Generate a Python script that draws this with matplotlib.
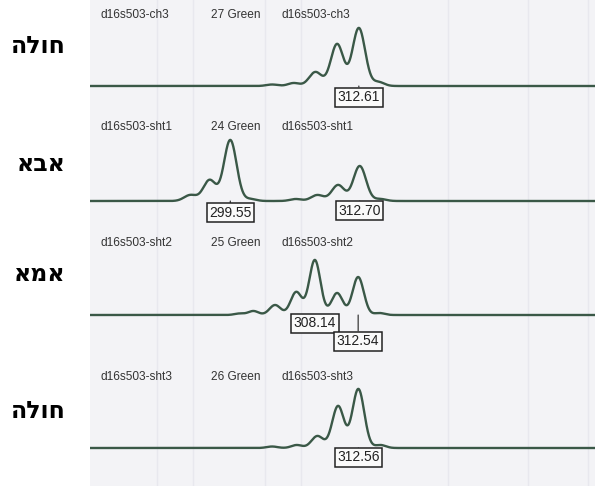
import matplotlib.pyplot as plt
from matplotlib.patches import Rectangle
import numpy as np

plt.rcParams['font.family'] = ['Liberation Sans', 'DejaVu Sans']

# fragment size window (bp) shown in every trace
size_range = (285.3, 336.6)

# one entry per sample, top to bottom
samples = ['חולה', 'אבא', 'אמא', 'חולה']
sample_ids = ['d16s503-ch3', 'd16s503-sht1', 'd16s503-sht2', 'd16s503-sht3']
lanes = ['27 Green', '24 Green', '25 Green', '26 Green']

# peaks: size (bp), height (relative units)
peak_sizes = [
    [303.8, 306.0, 308.2, 310.4, 312.61, 314.6],
    [295.5, 297.45, 299.55, 301.6, 306.2, 308.4, 310.5, 312.70, 314.8],
    [300.5, 301.9, 304.1, 306.25, 308.14, 310.4, 312.54, 314.7],
    [303.8, 306.3, 308.4, 310.5, 312.56, 314.8],
]
peak_heights = [
    [1.5, 3, 14, 42, 58, 4],
    [6, 21, 61, 2, 2, 6, 16, 35, 2],
    [1.5, 4, 10, 23, 55, 22, 38, 2],
    [1.5, 3, 12, 42, 59, 3],
]
peak_width = [0.64, 0.64, 0.57, 0.6]

# called allele sizes per trace
called = [[312.61], [299.55, 312.70], [308.14, 312.54], [312.56]]
called_drop = [[-11], [-12, -10], [-8, -26], [-9]]

# faint chart paper grid (bp)
grid_sizes = [292.1, 295.8, 303.1, 306.7, 321.7, 329.8, 335.9]

# pixel bands of the four panels: top, baseline, bottom
bands = [(0, 86, 112), (112, 201, 228), (228, 315, 362), (362, 448, 486)]

W, H = 595, 486
fig = plt.figure(figsize=(W / 100, H / 100), dpi=100)
fig.patches.append(Rectangle((90 / W, 0), 1 - 90 / W, 1, transform=fig.transFigure,
                             facecolor='#f3f3f6', edgecolor='none', zorder=-5))

trace_color = '#3a5847'
xs = np.linspace(size_range[0], size_range[1], 3000)

for i, (top, base, bot) in enumerate(bands):
    ax = fig.add_axes([90 / W, 1 - bot / H, (W - 90) / W, (bot - top) / H])
    ax.set_facecolor('none')
    ax.set_xlim(*size_range)
    ax.set_ylim(-(bot - base), base - top)
    ax.axis('off')

    for g in grid_sizes:
        ax.axvline(g, color='#e8e8ee', lw=1.0, zorder=1)

    ys = np.zeros_like(xs)
    for s, h in zip(peak_sizes[i], peak_heights[i]):
        w = peak_width[i] if h > 5 else peak_width[i] * 0.9
        ys += h * np.exp(-(xs - s) ** 2 / (2 * w ** 2))
    ax.plot(xs, ys, color=trace_color, lw=1.7, zorder=3, solid_joinstyle='round')

    ty = 1 - 15 / (bot - top)
    ax.text(0.02, ty, sample_ids[i], transform=ax.transAxes,
            fontsize=8.6, color='#333333', va='center', ha='left')
    ax.text(0.24, ty, lanes[i], transform=ax.transAxes,
            fontsize=8.6, color='#333333', va='center', ha='left')
    ax.text(0.38, ty, sample_ids[i], transform=ax.transAxes,
            fontsize=8.6, color='#333333', va='center', ha='left')

    for s, d in zip(called[i], called_drop[i]):
        ax.annotate(f'{s:.2f}', xy=(s, 0), xytext=(s, d), ha='center', va='center',
                    fontsize=10, color='#222222', zorder=4,
                    bbox=dict(boxstyle='square,pad=0.18', fc='#fafafa', ec='#222222', lw=1.1),
                    arrowprops=dict(arrowstyle='-', color='#222222', lw=0.8,
                                    shrinkA=0, shrinkB=0))

# sample labels (Hebrew, drawn right to left)
label_y = [46, 164, 274, 411]
for name, y in zip(samples, label_y):
    fig.text(66 / W, 1 - y / H, name[::-1], ha='right', va='center',
             fontsize=17, fontweight='bold', color='black', family=['DejaVu Sans'])

fig.savefig('out.png', dpi=100)
